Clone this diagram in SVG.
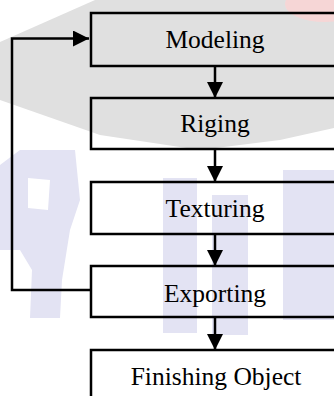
<svg xmlns="http://www.w3.org/2000/svg" width="334" height="396" viewBox="0 0 334 396">
<style>
.box{fill:none;stroke:#000;stroke-width:2.5}
.lbl{font-family:"Liberation Serif","Times New Roman",serif;font-size:25.5px;fill:#000;text-anchor:middle}
.conn{fill:none;stroke:#000;stroke-width:2.5}
.wm{fill:#e3e3f3}
</style>
<defs>
<marker id="ah" viewBox="0 0 16 16" refX="16" refY="8" markerWidth="16" markerHeight="16" markerUnits="userSpaceOnUse" orient="auto">
<path d="M0,0 L16,8 L0,16 Z" fill="#000"/>
</marker>
</defs>
<rect width="334" height="396" fill="#fff"/>
<g id="watermark">
<polygon points="0,42 95,0 334,0 334,128 280,140 200,150 100,135 0,100" fill="#e0e0e0"/>
<ellipse cx="325" cy="4" rx="40" ry="18" fill="#f6d6d6"/>
<path class="wm" d="M20,150 L75,150 L80,200 L70,230 L62,280 L60,318 L30,318 L32,270 L20,250 L0,250 L0,165 Z M28,178 L28,208 L48,210 L50,180 Z" fill-rule="evenodd"/>
<rect class="wm" x="163" y="178" width="34" height="155"/>
<rect class="wm" x="212" y="195" width="36" height="140"/>
<rect class="wm" x="283" y="170" width="51" height="150"/>
</g>
<g id="connectors">
<line class="conn" x1="215" y1="66" x2="215" y2="98" marker-end="url(#ah)"/>
<line class="conn" x1="215" y1="149" x2="215" y2="182" marker-end="url(#ah)"/>
<line class="conn" x1="215" y1="234" x2="215" y2="266" marker-end="url(#ah)"/>
<line class="conn" x1="215" y1="317" x2="215" y2="350" marker-end="url(#ah)"/>
<polyline class="conn" points="91,290 12,290 12,38.5 89,38.5" marker-end="url(#ah)"/>
</g>
<g id="modeling"><rect class="box" x="91" y="13" width="260" height="53"/><text class="lbl" x="215" y="48">Modeling</text></g>
<g id="riging"><rect class="box" x="91" y="98" width="260" height="51"/><text class="lbl" x="215" y="132">Riging</text></g>
<g id="texturing"><rect class="box" x="91" y="182" width="260" height="52"/><text class="lbl" x="215" y="217">Texturing</text></g>
<g id="exporting"><rect class="box" x="91" y="266" width="260" height="51"/><text class="lbl" x="215" y="302">Exporting</text></g>
<g id="finishing"><rect class="box" x="91" y="350" width="260" height="60"/><text class="lbl" x="216" y="385">Finishing Object</text></g>
</svg>
